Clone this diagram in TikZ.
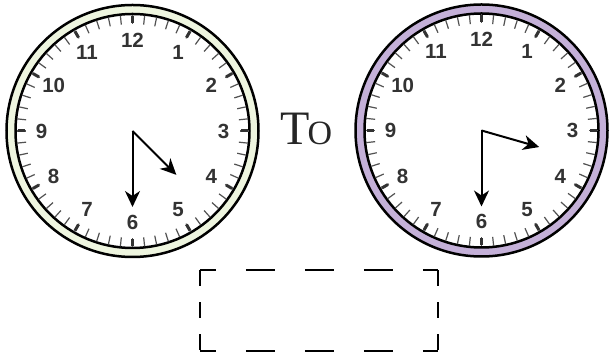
\documentclass[tikz,border=0pt]{standalone}
\usepackage{fontspec}
\setmainfont{Liberation Serif}
\newfontfamily\dialfont{Liberation Sans}
\usepackage{tikz}
\usetikzlibrary{arrows.meta,positioning,calc}
\definecolor{ringgreen}{HTML}{EEF5DF}
\definecolor{ringpurple}{HTML}{C4B0D8}
\definecolor{dialgray}{HTML}{333333}

\begin{document}
\begin{tikzpicture}[x=1pt, y=1pt, every node/.style={inner sep=0pt}]
        % styles
        \tikzstyle{rim} = [circle, draw=black, line width=2.5pt, minimum size=252pt]
        \tikzstyle{face} = [circle, draw=black, line width=2.5pt, fill=white, minimum size=234pt]
        \tikzstyle{minortick} = [draw=dialgray!85, line width=1.2pt]
        \tikzstyle{majortick} = [draw=dialgray, line width=3pt]
        \tikzstyle{numeral} = [font=\dialfont\bfseries\fontsize{20.5}{20.5}\selectfont, text=dialgray]
        \tikzstyle{hand} = [line width=2pt, -{Stealth[length=16pt, width=15pt, inset=5pt]}]
        \tikzstyle{answerline} = [line width=1.8pt]

        \useasboundingbox (0,0) rectangle (611,358);

        % clocks
        \node (rimA) [rim, fill=ringgreen] at (132.5,227) {};
        \node (faceA) [face] at (rimA.center) {};
        \node (rimB) [rim, fill=ringpurple] at (481.5,227.5) {};
        \node (faceB) [face] at (rimB.center) {};

        % ticks and numerals
        \foreach \c in {faceA,faceB} {
            \foreach \m in {0,...,59}
                \draw [minortick] ($(\c)+(90-6*\m:116)$) -- ($(\c)+(90-6*\m:107)$);
            \foreach \h in {0,...,11}
                \draw [majortick] ($(\c)+(90-30*\h:115)$) -- ($(\c)+(90-30*\h:108)$);
            \foreach \h in {1,...,12}
                \node (\c-n\h) [numeral] at ($(\c)+(90-30*\h:91)$) {\h};
        }

        % hands
        \coordinate (hourA) at ($(faceA)+(-45:62)$);
        \coordinate (minuteA) at ($(faceA)+(-90:76)$);
        \coordinate (hourB) at ($(faceB)+(-16:60)$);
        \coordinate (minuteB) at ($(faceB)+(-90:76)$);
        \draw [hand] (faceA.center) -- (hourA);
        \draw [hand] (faceA.center) -- (minuteA);
        \draw [hand] (faceB.center) -- (hourB);
        \draw [hand] (faceB.center) -- (minuteB);

        % text between the clocks
        \node (to) [anchor=base west, font=\fontsize{48}{48}\selectfont, text=black!85] at (280,213) {T\kern-2pt{\fontsize{34}{34}\selectfont O}};

        % answer box
        \node (answer) [minimum width=238pt, minimum height=80pt] at (319,47.5) {};
        \draw [answerline, dash pattern=on 29pt off 30pt, dash phase=13pt] (answer.north west) -- (answer.north east);
        \draw [answerline, dash pattern=on 29pt off 30pt, dash phase=13pt] (answer.south west) -- (answer.south east);
        \draw [answerline, dash pattern=on 16pt off 16pt] (answer.north west) -- (answer.south west);
        \draw [answerline, dash pattern=on 16pt off 16pt] (answer.north east) -- (answer.south east);
    \end{tikzpicture}
\end{document}
